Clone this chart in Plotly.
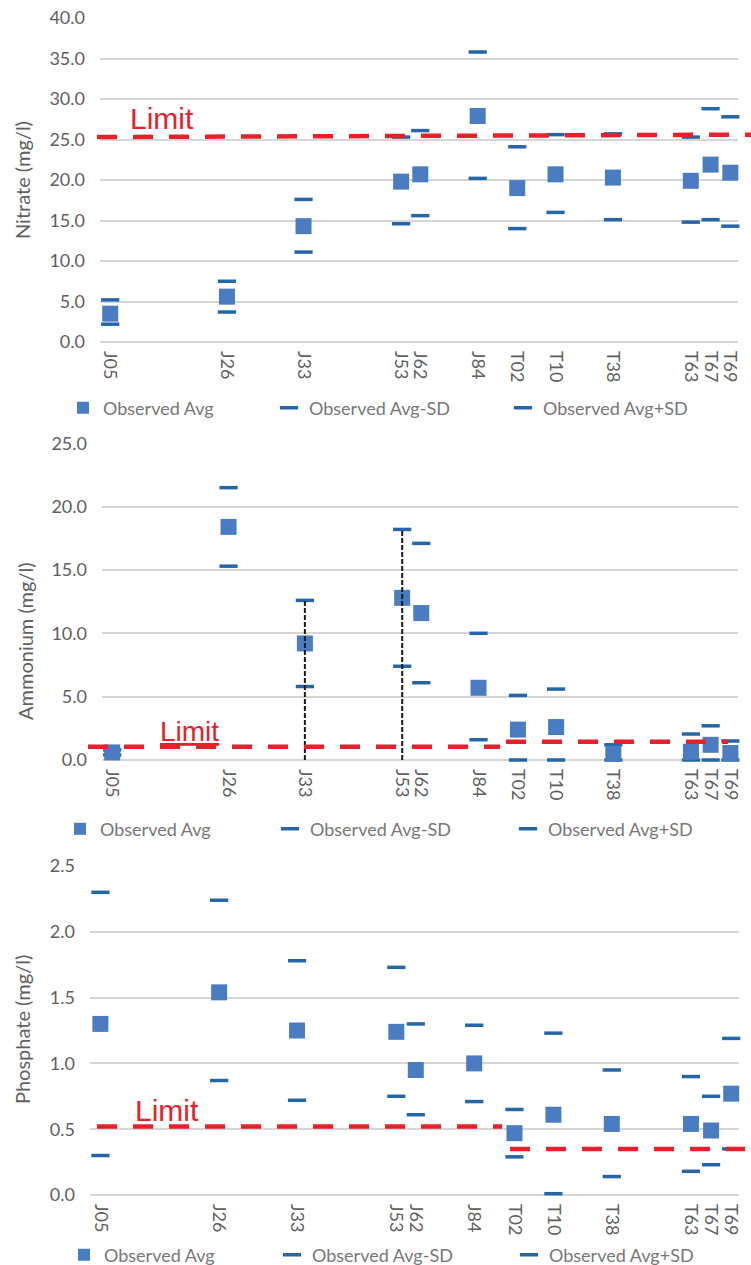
import plotly.graph_objects as go

# Monitoring stations and their relative position along the watercourse
stations = ["J05", "J26", "J33", "J53", "J62", "J84", "T02", "T10", "T38", "T63", "T67", "T69"]
station_pos = [1.6, 19.9, 31.9, 47.2, 50.2, 59.2, 65.4, 71.4, 80.4, 92.6, 95.7, 98.8]

# Nitrate (mg/l)
nitrate_avg = [3.5, 5.6, 14.3, 19.8, 20.7, 27.9, 19.0, 20.7, 20.3, 19.9, 21.9, 20.9]
nitrate_lo = [2.2, 3.7, 11.1, 14.6, 15.6, 20.2, 14.0, 16.0, 15.1, 14.8, 15.1, 14.3]
nitrate_hi = [5.2, 7.5, 17.6, 25.3, 26.1, 35.8, 24.1, 25.6, 25.7, 25.3, 28.8, 27.8]
nitrate_limit = [25.3, 25.6]

# Ammonium (mg/l)
ammonium_avg = [0.6, 18.4, 9.2, 12.8, 11.6, 5.7, 2.4, 2.6, 0.5, 0.65, 1.2, 0.55]
ammonium_lo = [0.4, 15.3, 5.8, 7.4, 6.1, 1.6, 0.0, 0.0, 0.0, 0.0, 0.0, 0.0]
ammonium_hi = [0.8, 21.5, 12.6, 18.2, 17.1, 10.0, 5.1, 5.6, 1.2, 2.05, 2.7, 1.5]
ammonium_limit_j = 1.05
ammonium_limit_t = 1.45

# Phosphate (mg/l)
phosphate_avg = [1.30, 1.54, 1.25, 1.24, 0.95, 1.00, 0.47, 0.61, 0.54, 0.54, 0.49, 0.77]
phosphate_lo = [0.30, 0.87, 0.72, 0.75, 0.61, 0.71, 0.29, 0.01, 0.14, 0.18, 0.23, 0.35]
phosphate_hi = [2.30, 2.24, 1.78, 1.73, 1.30, 1.29, 0.65, 1.23, 0.95, 0.90, 0.75, 1.19]
phosphate_limit_j = 0.52
phosphate_limit_t = 0.35

W, H = 751, 1265
FONT = "Lato"
SQ_COLOR = "#4a7cc1"
DASH_COLOR = "#2466a8"
RED = "#e8202a"
GRID = "#d6d6d6"
TICK_COLOR = "#606060"
LEG_COLOR = "#777777"


def px(x):
    return x / W


def py(y):
    return 1 - y / H


fig = go.Figure()

panels = [
    dict(ax="", avg=nitrate_avg, lo=nitrate_lo, hi=nitrate_hi, title="Nitrate (mg/l)",
         xdom=(100, 738), ydom=(342, 18), yrange=[0, 40], dtick=5, fmt=".1f",
         title_xy=(22, 180), leg_y=408, leg=[(86, 97), (292, 303), (526, 537)]),
    dict(ax="2", avg=ammonium_avg, lo=ammonium_lo, hi=ammonium_hi, title="Ammonium (mg/l)",
         xdom=(102, 738), ydom=(760, 443.3), yrange=[0, 25], dtick=5, fmt=".1f",
         title_xy=(25, 641), leg_y=829, leg=[(83, 95), (293, 305), (531, 542)]),
    dict(ax="3", avg=phosphate_avg, lo=phosphate_lo, hi=phosphate_hi, title="Phosphate (mg/l)",
         xdom=(90, 739), ydom=(1195, 866), yrange=[0, 2.5], dtick=0.5, fmt=".1f",
         title_xy=(22, 1030), leg_y=1255, leg=[(87, 99), (295, 306), (532, 543)]),
]

annotations = []
shapes = []
legend_layouts = {}
leg_idx = 1

for p in panels:
    xa = "x" + p["ax"]
    ya = "y" + p["ax"]
    dash_marker = dict(symbol="line-ew", size=13, line=dict(width=3.5, color=DASH_COLOR))
    series = [
        (1, "Observed Avg-SD", p["lo"], dash_marker),
        (2, "Observed Avg+SD", p["hi"], dash_marker),
        (0, "Observed Avg", p["avg"], dict(symbol="square", size=16, color=SQ_COLOR)),
    ]
    for k, name, vals, marker in series:
        n = (leg_idx - 1) + k + 1
        lname = "legend" if n == 1 else f"legend{n}"
        fig.add_trace(go.Scatter(
            x=station_pos, y=vals, mode="markers", name=name, marker=marker,
            xaxis=xa, yaxis=ya, legend=lname, cliponaxis=False, hoverinfo="x+y",
        ))
        sym_c, _txt = p["leg"][k]
        legend_layouts[lname] = dict(
            x=px(sym_c - 3 - 20), y=py(p["leg_y"]), xref="container", yref="container",
            xanchor="left", yanchor="middle",
            orientation="h", bgcolor="rgba(0,0,0,0)", borderwidth=0,
            itemsizing="constant" if k == 0 else "trace",
            font=dict(family=FONT, size=18, color=LEG_COLOR),
        )
    leg_idx += 3

    sfx = p["ax"]
    fig.layout["xaxis" + sfx] = dict(
        domain=[px(p["xdom"][0]), px(p["xdom"][1])], range=[0, 100],
        anchor=ya, tickmode="array", tickvals=station_pos, ticktext=stations,
        tickangle=90, showgrid=False, zeroline=False, showline=False, ticks="",
        tickfont=dict(family=FONT, size=18, color=TICK_COLOR), ticklabelstandoff=8,
    )
    fig.layout["yaxis" + sfx] = dict(
        domain=[py(p["ydom"][0]), py(p["ydom"][1])], range=p["yrange"],
        anchor=xa, dtick=p["dtick"], tick0=0, tickformat=p["fmt"],
        showgrid=True, gridcolor=GRID, gridwidth=1.5, zeroline=True,
        zerolinecolor=GRID, zerolinewidth=1.5, showline=False, ticks="",
        tickfont=dict(family=FONT, size=18, color=TICK_COLOR), ticklabelstandoff=14,
    )
    annotations.append(dict(
        text=p["title"], x=px(p["title_xy"][0]), y=py(p["title_xy"][1]),
        xref="paper", yref="paper", xanchor="center", yanchor="middle",
        textangle=-90, showarrow=False,
        font=dict(family=FONT, size=20, color=TICK_COLOR),
    ))

# Vertical reference lines from zero up to the Avg+SD value at J33 and J53
for i in (2, 3):
    fig.add_trace(go.Scatter(
        x=[station_pos[i], station_pos[i]], y=[0, ammonium_hi[i]], mode="lines",
        line=dict(color="#1a1a1a", width=2, dash="5px,2px"),
        xaxis="x2", yaxis="y2", showlegend=False, hoverinfo="skip",
    ))

# Guideline limits
line_style = dict(color=RED, width=4.5, dash="20px,16px")
shapes += [
    dict(type="line", xref="paper", yref="y", x0=px(97), x1=px(751),
         y0=nitrate_limit[0], y1=nitrate_limit[1], line=line_style),
    dict(type="line", xref="paper", yref="y2", x0=px(88), x1=px(500),
         y0=ammonium_limit_j, y1=ammonium_limit_j, line=line_style),
    dict(type="line", xref="paper", yref="y2", x0=px(506), x1=px(728),
         y0=ammonium_limit_t, y1=ammonium_limit_t, line=line_style),
    dict(type="line", xref="paper", yref="y3", x0=px(97), x1=px(502),
         y0=phosphate_limit_j, y1=phosphate_limit_j, line=line_style),
    dict(type="line", xref="paper", yref="y3", x0=px(510), x1=px(745),
         y0=phosphate_limit_t, y1=phosphate_limit_t, line=line_style),
]

for (cx, cy, size, label) in [(162, 118, 30, "Limit"), (189, 731, 28, "<u>Limit</u>"), (167, 1110, 30, "Limit")]:
    annotations.append(dict(
        text=label, x=px(cx), y=py(cy), xref="paper", yref="paper",
        xanchor="center", yanchor="middle", showarrow=False,
        font=dict(family="Liberation Sans", size=size, color=RED),
    ))

fig.update_layout(
    width=W, height=H, margin=dict(l=0, r=0, t=0, b=0, autoexpand=False),
    paper_bgcolor="white", plot_bgcolor="white",
    annotations=annotations, shapes=shapes, showlegend=True,
    **legend_layouts,
)

fig.write_html("out.html")
